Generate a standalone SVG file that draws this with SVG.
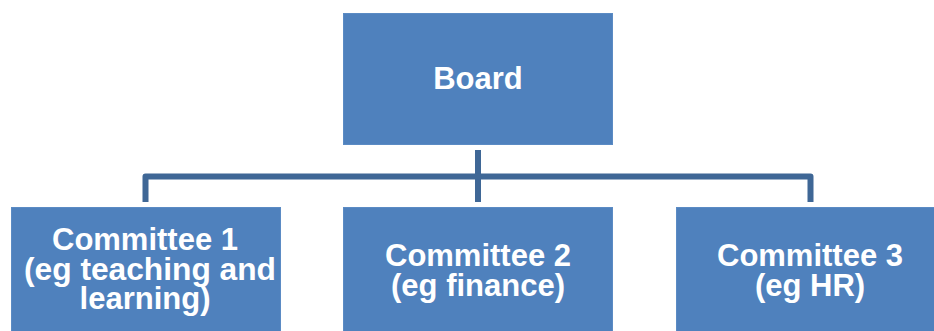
<svg xmlns="http://www.w3.org/2000/svg" width="934" height="331" viewBox="0 0 934 331">
  <style>
    .box { fill: #4F81BD; stroke: #5B8BC4; stroke-width: 1; }
    .label { font-family: "Liberation Sans", Arial, sans-serif; font-weight: bold; font-size: 31px; fill: #FFFFFF; text-anchor: middle; }
    .link { fill: none; stroke: #3F6796; stroke-width: 6; stroke-linejoin: round; }
  </style>
  <rect width="934" height="331" fill="#FFFFFF"/>

  <g id="connectors">
    <path class="link" d="M478 150 V202"/>
    <path class="link" d="M145.5 202 V176.5 H810.5 V202"/>
  </g>

  <g id="board">
    <rect class="box" x="343.5" y="13.5" width="269" height="131"/>
    <text class="label" x="478" y="89">Board</text>
  </g>

  <g id="committee1">
    <rect class="box" x="11.5" y="207.5" width="269" height="130"/>
    <text class="label" x="145" y="250" textLength="186" lengthAdjust="spacingAndGlyphs">Committee 1</text>
    <text class="label" x="150" y="280" textLength="252" lengthAdjust="spacingAndGlyphs">(eg teaching and</text>
    <text class="label" x="145" y="309">learning)</text>
  </g>

  <g id="committee2">
    <rect class="box" x="343.5" y="207.5" width="269" height="130"/>
    <text class="label" x="478" y="266" textLength="186" lengthAdjust="spacingAndGlyphs">Committee 2</text>
    <text class="label" x="478" y="296">(eg finance)</text>
  </g>

  <g id="committee3">
    <rect class="box" x="676.5" y="207.5" width="269" height="130"/>
    <text class="label" x="810" y="266" textLength="186" lengthAdjust="spacingAndGlyphs">Committee 3</text>
    <text class="label" x="810" y="296">(eg HR)</text>
  </g>
</svg>
